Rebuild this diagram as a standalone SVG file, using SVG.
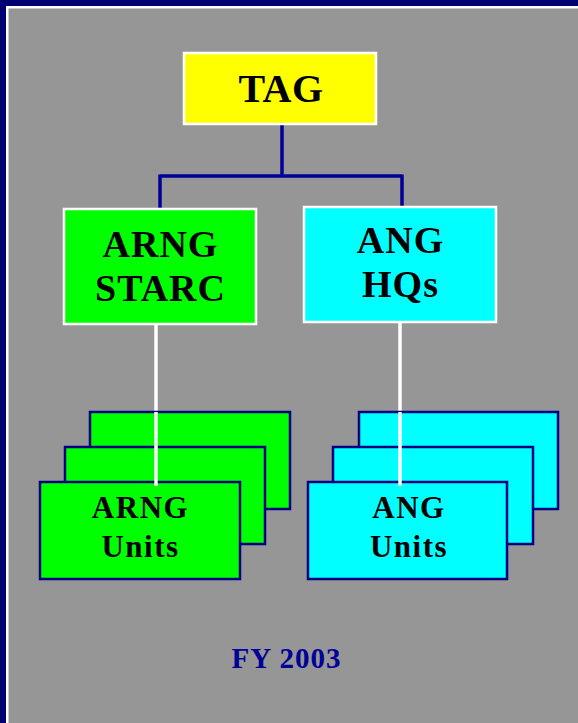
<svg xmlns="http://www.w3.org/2000/svg" width="578" height="723" viewBox="0 0 578 723">
<style>
.t{font-family:"Liberation Serif","DejaVu Serif",serif;font-weight:bold;text-anchor:middle;fill:#000}
.m{font-size:38px;letter-spacing:1px}
.s{font-size:31px;letter-spacing:1.5px}
.top{stroke:#ffffff;stroke-width:2.5}
.stk{stroke:#000080;stroke-width:2.5}
.g{fill:#00ff00}
.c{fill:#00ffff}
</style>
<rect x="0" y="0" width="578" height="723" fill="#000070"/>
<rect x="6" y="6" width="572" height="717" fill="#ffffff"/>
<rect x="8.5" y="8.5" width="570" height="715" fill="#969696"/>
<g id="connectors">
<path d="M282 125 V176 M160 176 H402 M160 174.5 V208 M402 174.5 V206" fill="none" stroke="#000099" stroke-width="3.5"/>
<path d="M156 325 V486 M400 323 V486" fill="none" stroke="#ffffff" stroke-width="3.5"/>
</g>
<g id="tag">
<rect x="184" y="53" width="192" height="71" fill="#ffff00" class="top"/>
<text class="t" x="281" y="102" font-size="40" letter-spacing="0.5">TAG</text>
</g>
<g id="arng-starc">
<rect x="64" y="209" width="192" height="115" class="g top"/>
<text class="t m" x="160.5" y="257">ARNG</text>
<text class="t m" x="160.5" y="301">STARC</text>
</g>
<g id="ang-hqs">
<rect x="304" y="207" width="192" height="115" class="c top"/>
<text class="t m" x="400.5" y="253">ANG</text>
<text class="t m" x="400.5" y="297">HQs</text>
</g>
<g id="arng-units">
<rect x="90" y="412" width="200" height="97" class="g stk"/>
<rect x="65" y="447" width="200" height="97" class="g stk"/>
<rect x="40" y="482" width="200" height="97" class="g stk"/>
<line x1="156" y1="412" x2="156" y2="486" stroke="#ffffff" stroke-width="3.5"/>
<text class="t s" x="140.5" y="518">ARNG</text>
<text class="t s" x="140.5" y="557">Units</text>
</g>
<g id="ang-units">
<rect x="359" y="412" width="199" height="97" class="c stk"/>
<rect x="333" y="447" width="200" height="97" class="c stk"/>
<rect x="308" y="482" width="199" height="97" class="c stk"/>
<line x1="400" y1="412" x2="400" y2="486" stroke="#ffffff" stroke-width="3.5"/>
<text class="t s" x="409" y="518">ANG</text>
<text class="t s" x="409" y="557">Units</text>
</g>
<g id="fy">
<text class="t" x="286.5" y="668" font-size="29" letter-spacing="1" style="fill:#000099">FY 2003</text>
</g>
</svg>
